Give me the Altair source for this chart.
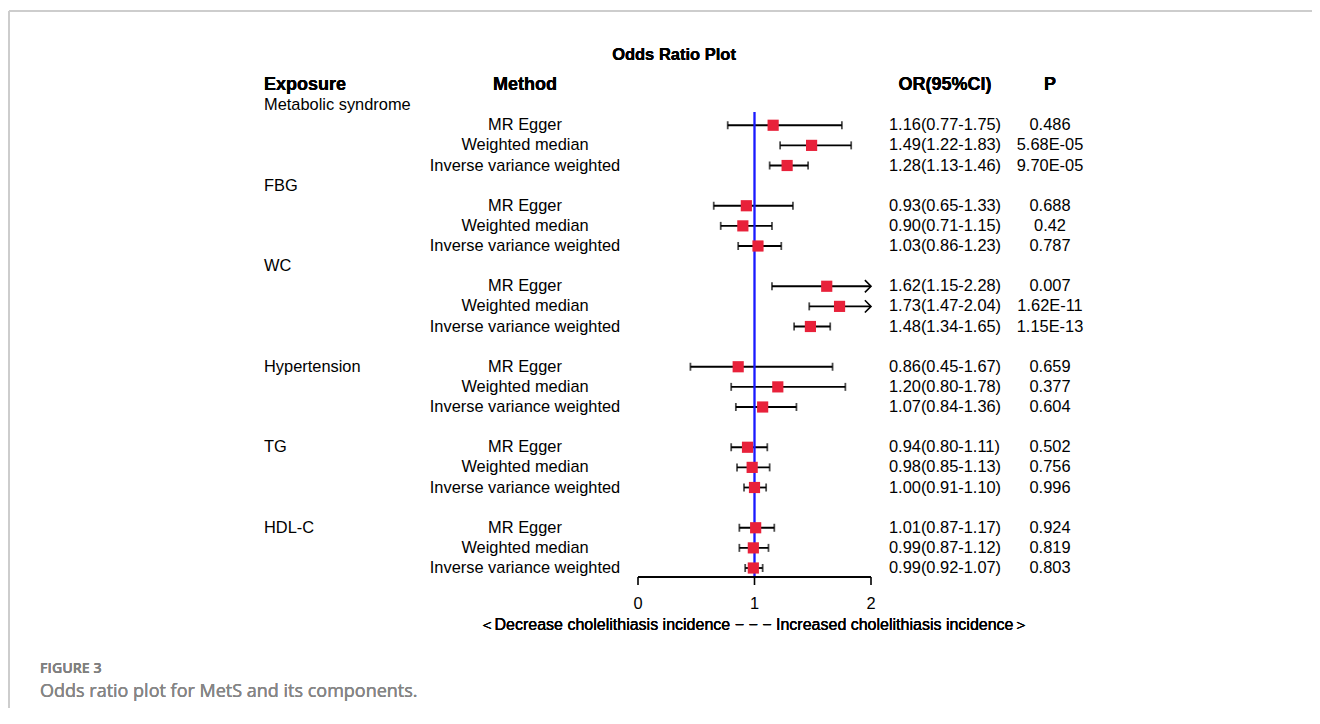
import altair as alt
import pandas as pd

exposures = ["Metabolic syndrome", "FBG", "WC", "Hypertension", "TG", "HDL-C"]
methods = ["MR Egger", "Weighted median", "Inverse variance weighted"]
or_values = [1.16, 1.49, 1.28, 0.93, 0.90, 1.03, 1.62, 1.73, 1.48,
             0.86, 1.20, 1.07, 0.94, 0.98, 1.00, 1.01, 0.99, 0.99]
ci_lower = [0.77, 1.22, 1.13, 0.65, 0.71, 0.86, 1.15, 1.47, 1.34,
            0.45, 0.80, 0.84, 0.80, 0.85, 0.91, 0.87, 0.87, 0.92]
ci_upper = [1.75, 1.83, 1.46, 1.33, 1.15, 1.23, 2.28, 2.04, 1.65,
            1.67, 1.78, 1.36, 1.11, 1.13, 1.10, 1.17, 1.12, 1.07]
p_values = ["0.486", "5.68E-05", "9.70E-05", "0.688", "0.42", "0.787",
            "0.007", "1.62E-11", "1.15E-13", "0.659", "0.377", "0.604",
            "0.502", "0.756", "0.996", "0.924", "0.819", "0.803"]
axis_ticks = [0, 1, 2]
x_max = 2

# Build rows: first three groups have header on its own row,
# last three have the header on the first method row after a blank row.
recs = []
ex_recs = []
row = 1
k = 0
for gi, ex in enumerate(exposures):
    if gi < 3:
        ex_recs.append({"exposure": ex, "row": row})
        row += 1
    else:
        row += 1
        ex_recs.append({"exposure": ex, "row": row})
    for m in methods:
        o, lo, hi = or_values[k], ci_lower[k], ci_upper[k]
        recs.append({
            "exposure": ex, "method": m, "or": o, "lo": lo,
            "hi": min(hi, x_max), "arrow": hi > x_max,
            "ortext": f"{o:.2f}({lo:.2f}-{hi:.2f})", "p": p_values[k],
            "row": row,
        })
        row += 1
        k += 1

df = pd.DataFrame(recs)
ex_df = pd.DataFrame(ex_recs)
tick_df = pd.DataFrame({"t": axis_ticks, "lab": [str(t) for t in axis_ticks]})

FONT = "Liberation Sans"
xs = alt.Scale(domain=[0, 2], range=[630, 863])
ys = alt.Scale(domain=[0, 24], range=[77, 560])
X = lambda f: alt.X(f, type="quantitative", scale=xs, axis=None)
Y = alt.Y("row:Q", scale=ys, axis=None)

base = alt.Chart(df)

frame_top = alt.Chart(tick_df).mark_rule(color="#cccccc", strokeWidth=1.5).encode(
    x=alt.value(1), x2=alt.value(1304), y=alt.value(3))
frame_left = alt.Chart(tick_df).mark_rule(color="#cccccc", strokeWidth=1.5).encode(
    x=alt.value(1), y=alt.value(3), y2=alt.value(700))

title = alt.Chart(tick_df).mark_text(font=FONT, fontSize=16.5, fontWeight="bold",
                                     align="center", baseline="middle").encode(
    x=alt.value(666), y=alt.value(47), text=alt.value("Odds Ratio Plot"))

hdr = lambda txt, x, al: alt.Chart(tick_df).mark_text(
    font=FONT, fontSize=18, fontWeight="bold", align=al, baseline="middle").encode(
    x=alt.value(x), y=alt.value(77), text=alt.value(txt))
headers = [hdr("Exposure", 256, "left"), hdr("Method", 517, "center"),
           hdr("OR(95%CI)", 937, "center"), hdr("P", 1042, "center")]

ex_text = alt.Chart(ex_df).mark_text(font=FONT, fontSize=16.4, align="left",
                                     baseline="middle").encode(
    x=alt.value(256), y=Y, text="exposure:N")
meth_text = base.mark_text(font=FONT, fontSize=16.4, align="center",
                           baseline="middle").encode(
    x=alt.value(517), y=Y, text="method:N")
or_text = base.mark_text(font=FONT, fontSize=16.4, align="left",
                         baseline="middle").encode(
    x=alt.value(881), y=Y, text="ortext:N")
p_text = base.mark_text(font=FONT, fontSize=16.4, align="center",
                        baseline="middle").encode(
    x=alt.value(1042), y=Y, text="p:N")

ref_line = alt.Chart(tick_df).mark_rule(color="#1a1aff", strokeWidth=1.6).encode(
    x=alt.datum(1, scale=xs, axis=None), y=alt.value(104), y2=alt.value(569))

ci = base.mark_rule(color="black", strokeWidth=1.8).encode(x=X("lo"), x2="hi", y=Y)
cap_lo = base.mark_tick(orient="vertical", color="black", size=8, thickness=1.8).encode(
    x=X("lo"), y=Y)
cap_hi = base.transform_filter("!datum.arrow").mark_tick(
    orient="vertical", color="black", size=8, thickness=1.8).encode(x=X("hi"), y=Y)
arrow = base.transform_filter("datum.arrow").mark_point(
    shape="M -1 -1 L 0 0 L -1 1", filled=False, color="black", size=150,
    strokeWidth=1.6, opacity=1).encode(x=X("hi"), y=Y)
squares = base.mark_square(color="#e8213a", size=125, opacity=1).encode(
    x=X("or"), y=Y)

axis_line = alt.Chart(tick_df).mark_rule(color="black", strokeWidth=1.6).encode(
    x=alt.datum(0, scale=xs, axis=None), x2=alt.datum(2), y=alt.value(569))
axis_ticks_m = alt.Chart(tick_df).mark_rule(color="black", strokeWidth=1.6).encode(
    x=X("t"), y=alt.value(569), y2=alt.value(577))
axis_labels = alt.Chart(tick_df).mark_text(font=FONT, fontSize=16.4, align="center",
                                           baseline="middle").encode(
    x=X("t"), y=alt.value(596), text="lab:N")
direction = alt.Chart(tick_df).mark_text(font=FONT, fontSize=16, align="center",
                                         baseline="middle").encode(
    x=alt.value(746), y=alt.value(617),
    text=alt.value("\uff1cDecrease cholelithiasis incidence \u2212 \u2212 \u2212 Increased cholelithiasis incidence\uff1e"))

cap1 = alt.Chart(tick_df).mark_text(font="Open Sans", fontSize=14.2, fontWeight=600,
                                    color="#808080", align="left", baseline="middle").encode(
    x=alt.value(32), y=alt.value(661), text=alt.value("FIGURE 3"))
cap2 = alt.Chart(tick_df).mark_text(font="Open Sans", fontSize=18, fontWeight=400,
                                    color="#858585", align="left", baseline="middle").encode(
    x=alt.value(32), y=alt.value(684),
    text=alt.value("Odds ratio plot for MetS and its components."))

chart = alt.layer(
    frame_top, frame_left, title, *headers, ex_text, meth_text, or_text, p_text,
    ci, cap_lo, cap_hi, arrow, ref_line, squares,
    axis_line, axis_ticks_m, axis_labels, direction, cap1, cap2,
).properties(width=1304, height=700, padding=0,
             autosize=alt.AutoSizeParams(type="none")
).configure_view(stroke=None)

chart.save("out.html", embed_options={"renderer": "svg", "actions": False})
